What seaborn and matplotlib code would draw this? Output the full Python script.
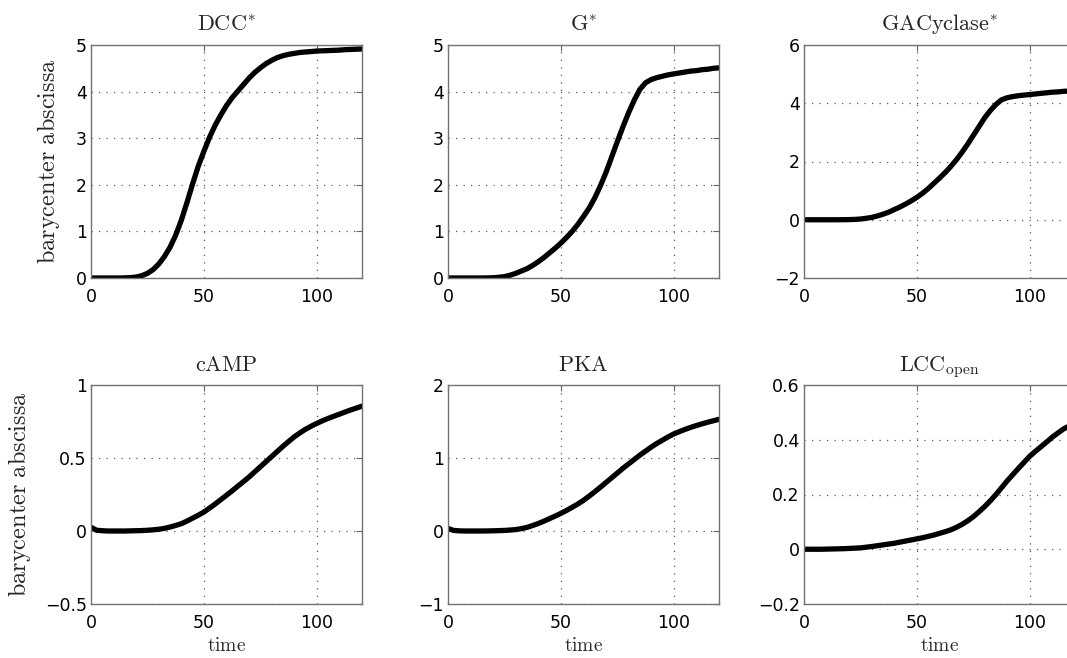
import numpy as np
import pandas as pd
import matplotlib
matplotlib.use("Agg")
import matplotlib.pyplot as plt
import seaborn as sns

# ---- data (time step 2.5) ----
time = [0, 2.5, 5, 7.5, 10, 12.5, 15, 17.5, 20, 22.5,
        25, 27.5, 30, 32.5, 35, 37.5, 40, 42.5, 45, 47.5,
        50, 52.5, 55, 57.5, 60, 62.5, 65, 67.5, 70, 72.5,
        75, 77.5, 80, 82.5, 85, 87.5, 90, 92.5, 95, 97.5,
        100, 102.5, 105, 107.5, 110, 112.5, 115, 117.5, 120]

dcc = [0, 0, 0, 0, 0, 0, 0.003, 0.008, 0.02, 0.05,
       0.1, 0.18, 0.3, 0.46, 0.66, 0.92, 1.24, 1.62, 2.02, 2.4,
       2.72, 3.02, 3.28, 3.5, 3.7, 3.87, 4.01, 4.15, 4.29, 4.41,
       4.51, 4.6, 4.67, 4.73, 4.77, 4.8, 4.82, 4.84, 4.85, 4.86,
       4.87, 4.875, 4.88, 4.885, 4.89, 4.9, 4.905, 4.91, 4.915]

gstar = [0, 0, 0, 0, 0, 0, 0, 0.002, 0.005, 0.015,
         0.03, 0.06, 0.1, 0.15, 0.2, 0.27, 0.35, 0.44, 0.54, 0.64,
         0.75, 0.87, 1.0, 1.15, 1.32, 1.5, 1.72, 1.98, 2.27, 2.6,
         2.93, 3.25, 3.55, 3.82, 4.05, 4.19, 4.26, 4.3, 4.33, 4.36,
         4.38, 4.4, 4.42, 4.44, 4.45, 4.47, 4.48, 4.5, 4.51]

gac = [0, 0, 0, 0, 0, 0, 0, 0.002, 0.005, 0.012,
       0.025, 0.05, 0.08, 0.13, 0.19, 0.26, 0.35, 0.44, 0.54, 0.65,
       0.77, 0.91, 1.07, 1.25, 1.43, 1.62, 1.83, 2.06, 2.32, 2.6,
       2.9, 3.2, 3.5, 3.75, 3.96, 4.12, 4.19, 4.23, 4.26, 4.28,
       4.3, 4.32, 4.34, 4.36, 4.38, 4.39, 4.41, 4.42, 4.43]

camp = [0.025, 0.005, 0.002, 0, 0, 0, 0, 0.001, 0.002, 0.003,
        0.005, 0.008, 0.012, 0.018, 0.027, 0.038, 0.05, 0.068, 0.088, 0.108,
        0.13, 0.157, 0.185, 0.215, 0.245, 0.275, 0.307, 0.338, 0.37, 0.405,
        0.44, 0.475, 0.51, 0.545, 0.58, 0.613, 0.645, 0.672, 0.697, 0.718,
        0.737, 0.755, 0.771, 0.786, 0.8, 0.815, 0.829, 0.842, 0.855]

pka = [0.035, 0.008, 0.002, 0, 0, 0, 0, 0.001, 0.003, 0.005,
       0.008, 0.013, 0.02, 0.032, 0.05, 0.075, 0.103, 0.135, 0.17, 0.205,
       0.242, 0.282, 0.325, 0.37, 0.42, 0.478, 0.538, 0.6, 0.665, 0.73,
       0.795, 0.86, 0.92, 0.98, 1.04, 1.095, 1.15, 1.2, 1.245, 1.29,
       1.33, 1.362, 1.392, 1.42, 1.445, 1.468, 1.49, 1.51, 1.53]

lcc = [0, 0, 0, 0, 0.0005, 0.001, 0.0015, 0.002, 0.003, 0.004,
       0.005, 0.0075, 0.01, 0.013, 0.016, 0.019, 0.022, 0.026, 0.03, 0.034,
       0.038, 0.042, 0.047, 0.052, 0.058, 0.064, 0.071, 0.08, 0.091, 0.104,
       0.119, 0.137, 0.156, 0.177, 0.2, 0.225, 0.25, 0.273, 0.296, 0.318,
       0.34, 0.358, 0.375, 0.392, 0.41, 0.425, 0.44, 0.45, 0.46]

titles = [r"$\mathrm{DCC}^{*}$", r"$\mathrm{G}^{*}$", r"$\mathrm{GACyclase}^{*}$",
          r"$\mathrm{cAMP}$", r"$\mathrm{PKA}$", r"$\mathrm{LCC}_{\mathrm{open}}$"]
series = [dcc, gstar, gac, camp, pka, lcc]

xticks = [0, 50, 100]
xticklabels = ["0", "50", "100"]
yticks = [[0, 1, 2, 3, 4, 5], [0, 1, 2, 3, 4, 5], [-2, 0, 2, 4, 6],
          [-0.5, 0, 0.5, 1], [-1, 0, 1, 2], [-0.2, 0, 0.2, 0.4, 0.6]]
yticklabels = [["0", "1", "2", "3", "4", "5"], ["0", "1", "2", "3", "4", "5"],
               ["\u22122", "0", "2", "4", "6"],
               ["\u22120.5", "0", "0.5", "1"], ["\u22121", "0", "1", "2"],
               ["\u22120.2", "0", "0.2", "0.4", "0.6"]]
ylims = [(0, 5), (0, 5), (-2, 6), (-0.5, 1), (-1, 2), (-0.2, 0.6)]
ylabel = r"$\mathrm{barycenter\ abscissa}$"
xlabel = r"$\mathrm{time}$"

sns.set_style("white")
plt.rcParams["font.family"] = ["DejaVu Sans"]
plt.rcParams["mathtext.fontset"] = "cm"

fig = plt.figure(figsize=(10.67, 6.58), dpi=100)
W, H = 1067.0, 658.0
lefts = [91, 448, 804]
width = 271
rows = [(45, 278), (385, 604)]

axes = []
for r, (top, bot) in enumerate(rows):
    for c, lx in enumerate(lefts):
        ax = fig.add_axes([lx / W, 1 - bot / H, width / W, (bot - top) / H])
        axes.append(ax)

for i, ax in enumerate(axes):
    df = pd.DataFrame({"time": time, "value": series[i]})
    sns.lineplot(data=df, x="time", y="value", ax=ax, color="black", linewidth=3.8)
    ax.set_xlim(0, 120)
    ax.set_ylim(*ylims[i])
    ax.set_xticks(xticks)
    ax.set_xticklabels(xticklabels)
    ax.set_yticks(yticks[i])
    ax.set_yticklabels(yticklabels[i])
    ax.grid(True, linestyle=(0, (1, 5)), color="0.35", linewidth=0.9)
    ax.tick_params(axis="both", direction="in", length=4, width=0.8, color="0.4",
                   labelsize=12.5, top=True, right=True, labelcolor="black")
    ax.tick_params(axis="x", pad=7)
    ax.tick_params(axis="y", pad=3)
    for s in ax.spines.values():
        s.set_color("0.45")
        s.set_linewidth(1.0)
        s.set_visible(True)
    ax.set_title(titles[i], fontsize=16, pad=10)
    ax.set_xlabel("")
    ax.set_ylabel("")
    if i % 3 == 0:
        ax.set_ylabel(ylabel, fontsize=17.5)
        if i == 0:
            ax.yaxis.set_label_coords(-0.108, 0.5)
        else:
            ax.yaxis.set_label_coords(-0.214, 0.5)
    if i >= 3:
        ax.set_xlabel(xlabel, fontsize=14, labelpad=3)

fig.savefig("out.png", dpi=100)
